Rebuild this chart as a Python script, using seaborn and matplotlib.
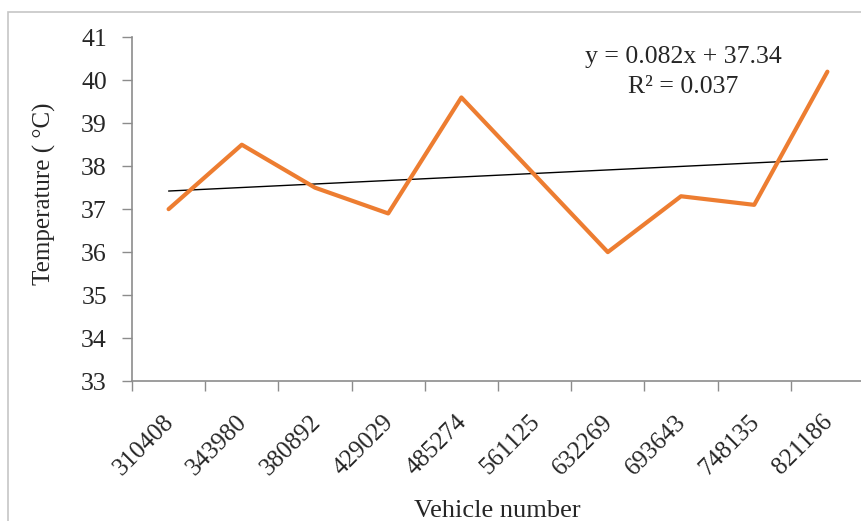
import numpy as np
import pandas as pd
import seaborn as sns
import matplotlib.pyplot as plt
import matplotlib.transforms as mtransforms
from matplotlib.patches import Rectangle

vehicles = ['310408', '343980', '380892', '429029', '485274',
            '561125', '632269', '693643', '748135', '821186']
temps = [37.0, 38.5, 37.5, 36.9, 39.6, 37.8, 36.0, 37.3, 37.1, 40.2]
eq_text = 'y = 0.082x + 37.34'
r2_text = 'R\u00b2 = 0.037'

sns.set_style('white')
plt.rcParams['font.family'] = ['Liberation Serif', 'DejaVu Serif']

df = pd.DataFrame({'Vehicle': vehicles, 'Temp': temps})
pos = np.arange(len(vehicles))
# linear trend over the category index (1..n), like excel does
slope, icpt = np.polyfit(pos + 1, temps, 1)
trend = slope * (pos + 1) + icpt

fig = plt.figure(figsize=(8.61, 5.21), dpi=100)
fig.patches.append(Rectangle((8.3 / 861, -0.1), 1.1, (521 - 12.3) / 521 + 0.1,
                             transform=fig.transFigure, fill=False,
                             edgecolor='#c6c6c6', lw=1.2, zorder=0))
ax = fig.add_axes([132 / 861, 140 / 521, 732 / 861, 343.7 / 521])

sns.lineplot(x=pos, y=trend, ax=ax, color='black', lw=1.0)
sns.lineplot(x=pos, y=df['Temp'], ax=ax, color='#ED7D31', lw=3.0)

ax.set_xlim(-0.5, len(vehicles) - 0.5)
ax.set_ylim(33, 41)
ax.set_yticks(range(33, 42))
ax.tick_params(axis='y', left=True, labelsize=18.5, length=7, width=1, color='#8c8c8c', pad=11, direction='out')

ax.set_xticks(pos)
ax.set_xticklabels(vehicles, rotation=45, ha='right', va='center', rotation_mode='anchor')
ax.set_xticks(np.arange(-0.5, len(vehicles)), minor=True)
ax.tick_params(axis='x', which='major', bottom=True, labelsize=18, length=0, pad=27)
ax.tick_params(axis='x', which='minor', bottom=True, length=7, width=1, color='#8c8c8c', direction='out')
shift = mtransforms.ScaledTranslation(2 / 100, 0, fig.dpi_scale_trans)
for lbl in ax.get_xticklabels():
    lbl.set_transform(lbl.get_transform() + shift)

for s in ['top', 'right']:
    ax.spines[s].set_visible(False)
for s in ['left', 'bottom']:
    ax.spines[s].set_color('#8c8c8c')
    ax.spines[s].set_linewidth(1.2)

ax.set_xlabel('Vehicle number', fontsize=19)
ax.set_ylabel('Temperature ( \u00b0C)', fontsize=18)
ax.xaxis.set_label_coords(0.499, -0.345)
ax.yaxis.set_label_coords(-0.104, 0.544)

ax.text(0.753, 0.9436, eq_text, transform=ax.transAxes, fontsize=18.5, ha='center', va='center')
ax.text(0.753, 0.8564, r2_text, transform=ax.transAxes, fontsize=18.5, ha='center', va='center')

fig.savefig('out.png', dpi=100)
